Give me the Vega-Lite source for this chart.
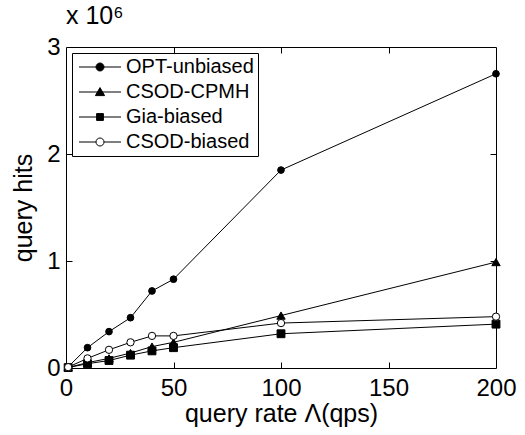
{
  "$schema": "https://vega.github.io/schema/vega-lite/v6.json",
  "width": 430,
  "height": 321,
  "autosize": "none",
  "padding": {"left": 66, "top": 47, "right": 29, "bottom": 67},
  "title": {"text": "x 10⁶", "anchor": "start", "frame": "group", "fontSize": 25, "fontWeight": "normal", "font": "Liberation Sans", "offset": 6, "color": "black"},
  "config": {
    "view": {"stroke": "black", "strokeWidth": 1},
    "font": "Liberation Sans",
    "axis": {"domain": false, "grid": false, "tickColor": "black", "tickWidth": 1, "tickSize": 6, "labelColor": "black", "titleColor": "black", "labelFont": "Liberation Sans", "titleFont": "Liberation Sans", "labelFontSize": 24, "titleFontSize": 25, "titleFontWeight": "normal", "labelFlush": false, "labelOverlap": false}
  },
  "data": {
    "values": [
      {"rate": 1, "hits": 10000, "series": "OPT-unbiased"},
      {"rate": 10, "hits": 190000, "series": "OPT-unbiased"},
      {"rate": 20, "hits": 340000, "series": "OPT-unbiased"},
      {"rate": 30, "hits": 470000, "series": "OPT-unbiased"},
      {"rate": 40, "hits": 720000, "series": "OPT-unbiased"},
      {"rate": 50, "hits": 830000, "series": "OPT-unbiased"},
      {"rate": 100, "hits": 1850000, "series": "OPT-unbiased"},
      {"rate": 200, "hits": 2750000, "series": "OPT-unbiased"},
      {"rate": 1, "hits": 5000, "series": "CSOD-CPMH"},
      {"rate": 10, "hits": 50000, "series": "CSOD-CPMH"},
      {"rate": 20, "hits": 90000, "series": "CSOD-CPMH"},
      {"rate": 30, "hits": 140000, "series": "CSOD-CPMH"},
      {"rate": 40, "hits": 200000, "series": "CSOD-CPMH"},
      {"rate": 50, "hits": 240000, "series": "CSOD-CPMH"},
      {"rate": 100, "hits": 490000, "series": "CSOD-CPMH"},
      {"rate": 200, "hits": 990000, "series": "CSOD-CPMH"},
      {"rate": 1, "hits": 4000, "series": "Gia-biased"},
      {"rate": 10, "hits": 40000, "series": "Gia-biased"},
      {"rate": 20, "hits": 70000, "series": "Gia-biased"},
      {"rate": 30, "hits": 120000, "series": "Gia-biased"},
      {"rate": 40, "hits": 160000, "series": "Gia-biased"},
      {"rate": 50, "hits": 190000, "series": "Gia-biased"},
      {"rate": 100, "hits": 320000, "series": "Gia-biased"},
      {"rate": 200, "hits": 410000, "series": "Gia-biased"},
      {"rate": 1, "hits": 8000, "series": "CSOD-biased"},
      {"rate": 10, "hits": 90000, "series": "CSOD-biased"},
      {"rate": 20, "hits": 170000, "series": "CSOD-biased"},
      {"rate": 30, "hits": 240000, "series": "CSOD-biased"},
      {"rate": 40, "hits": 300000, "series": "CSOD-biased"},
      {"rate": 50, "hits": 300000, "series": "CSOD-biased"},
      {"rate": 100, "hits": 420000, "series": "CSOD-biased"},
      {"rate": 200, "hits": 480000, "series": "CSOD-biased"}
    ]
  },
  "resolve": {"scale": {"shape": "independent", "fill": "independent", "stroke": "independent"}, "axis": {"x": "independent", "y": "independent"}},
  "layer": [
    {
      "mark": {"type": "line", "color": "black", "strokeWidth": 1},
      "encoding": {
        "x": {"field": "rate", "type": "quantitative", "scale": {"domain": [0, 200], "nice": false, "zero": false},
              "axis": {"orient": "top", "offset": -6, "labels": false, "title": null, "values": [50, 100, 150]}},
        "y": {"field": "hits", "type": "quantitative", "scale": {"domain": [0, 3000000], "nice": false},
              "axis": {"orient": "right", "offset": -6, "labels": false, "title": null, "values": [1000000, 2000000]}},
        "detail": {"field": "series"}
      }
    },
    {
      "mark": {"type": "point", "filled": true, "stroke": "black", "strokeWidth": 1, "opacity": 1},
      "encoding": {
        "x": {"field": "rate", "type": "quantitative",
              "axis": {"orient": "bottom", "ticks": false, "title": "query rate Λ(qps)", "values": [0, 50, 100, 150, 200], "labelPadding": 8, "titlePadding": 1}},
        "y": {"field": "hits", "type": "quantitative",
              "axis": {"orient": "left", "ticks": false, "title": "query hits", "values": [0, 1000000, 2000000, 3000000], "labelExpr": "format(datum.value/1000000, 'd')", "labelPadding": 6, "titlePadding": 10}},
        "shape": {"field": "series", "type": "nominal",
                  "scale": {"domain": ["CSOD-biased", "OPT-unbiased", "CSOD-CPMH", "Gia-biased"], "range": ["circle", "circle", "triangle-up", "square"]},
                  "legend": null},
        "fill": {"field": "series", "type": "nominal",
                 "scale": {"domain": ["Gia-biased", "CSOD-biased", "OPT-unbiased", "CSOD-CPMH"], "range": ["black", "white", "black", "black"]},
                 "legend": null},
        "size": {"field": "series", "type": "nominal",
                 "scale": {"domain": ["CSOD-CPMH", "Gia-biased", "CSOD-biased", "OPT-unbiased"], "range": [70, 45, 64, 64]},
                 "legend": null}
      }
    },
    {
      "data": {"values": []},
      "mark": {"type": "point", "filled": true, "strokeWidth": 1, "opacity": 1},
      "encoding": {
        "x": {"field": "rate", "type": "quantitative",
              "axis": {"orient": "bottom", "offset": -6, "labels": false, "title": null, "values": [50, 100, 150]}},
        "y": {"field": "hits", "type": "quantitative",
              "axis": {"orient": "left", "offset": -6, "labels": false, "title": null, "values": [1000000, 2000000]}},
        "shape": {"field": "series", "type": "nominal",
                  "scale": {"domain": ["OPT-unbiased", "CSOD-CPMH", "Gia-biased", "CSOD-biased"],
                            "range": ["M-5.25,0H5.25M1,0A1,1,0,1,1,-1,0A1,1,0,1,1,1,0Z",
                                      "M-5.25,0H5.25M0,-1.1L1.15,0.9L-1.15,0.9Z",
                                      "M-5.25,0H5.25M-0.85,-0.85H0.85V0.85H-0.85Z",
                                      "M-5.25,0H-1M1,0H5.25M1,0A1,1,0,1,1,-1,0A1,1,0,1,1,1,0Z"]},
                  "legend": {
                    "title": null, "orient": "top-left", "offset": 6, "padding": 4, "rowPadding": 5,
                    "labelFontSize": 20, "labelFont": "Liberation Sans", "labelColor": "black", "labelOffset": 16, "symbolOffset": 14,
                    "symbolSize": 64, "strokeColor": "black", "fillColor": "white", "symbolStrokeWidth": 1
                  }},
        "fill": {"field": "series", "type": "nominal",
                 "scale": {"domain": ["OPT-unbiased", "CSOD-CPMH", "Gia-biased", "CSOD-biased"], "range": ["black", "black", "black", "white"]}},
        "stroke": {"field": "series", "type": "nominal",
                   "scale": {"domain": ["OPT-unbiased", "CSOD-CPMH", "Gia-biased", "CSOD-biased"], "range": ["black", "black", "black", "black"]}}
      }
    }
  ]
}
